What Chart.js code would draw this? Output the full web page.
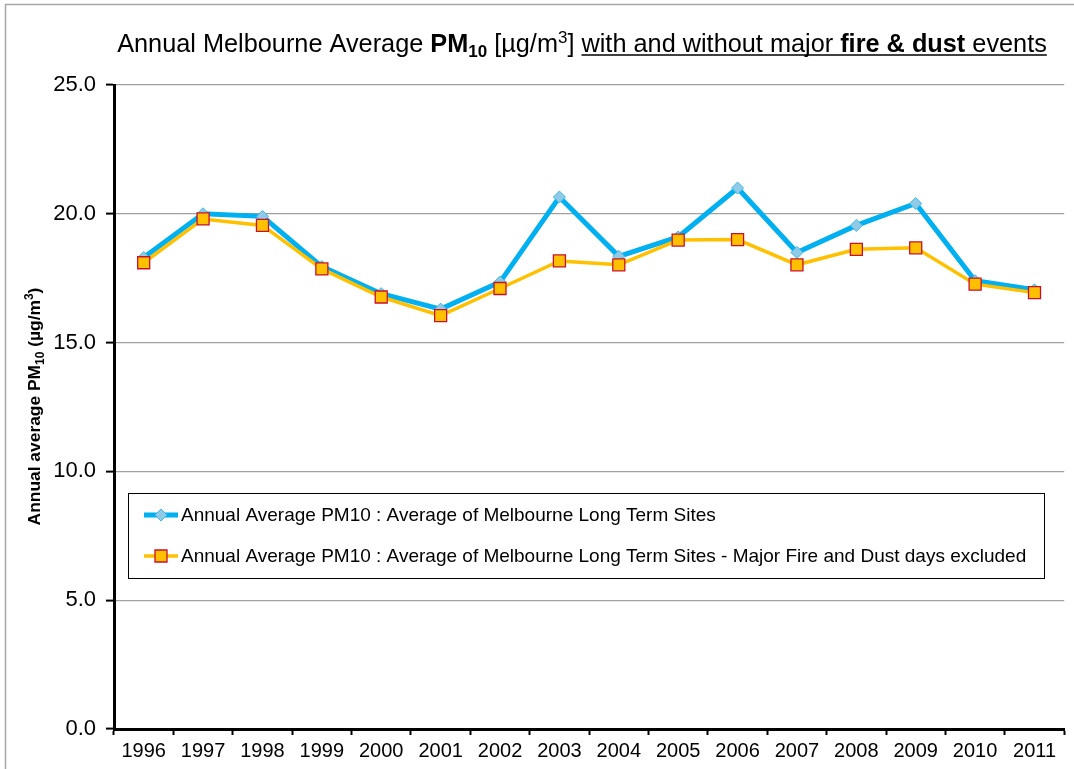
<!DOCTYPE html>
<html>
<head>
<meta charset="utf-8">
<script src="https://cdn.jsdelivr.net/npm/chart.js@4.4.0/dist/chart.umd.min.js"></script>
<style>
  html, body { margin: 0; padding: 0; background: #ffffff; }
  #wrap { width: 1074px; height: 769px; }
</style>
</head>
<body>
<div id="wrap"><canvas id="c" width="1074" height="769"></canvas></div>
<script>
// ---- Data ----
const years = ['1996','1997','1998','1999','2000','2001','2002','2003','2004','2005','2006','2007','2008','2009','2010','2011'];
const allDaysPM10 = [18.3, 20.0, 19.9, 17.95, 16.9, 16.3, 17.35, 20.65, 18.35, 19.1, 21.0, 18.5, 19.55, 20.4, 17.4, 17.05];
const excludedPM10 = [18.1, 19.8, 19.55, 17.86, 16.77, 16.05, 17.1, 18.17, 18.02, 18.98, 19.0, 18.02, 18.62, 18.68, 17.27, 16.94];
const seriesLabels = [
  'Annual Average PM10 : Average of Melbourne Long Term Sites',
  'Annual Average PM10 : Average of Melbourne Long Term Sites - Major Fire and Dust days excluded'
];
const yTicks = [0, 5, 10, 15, 20, 25];

const FONT = '"Liberation Sans", Arial, Helvetica, sans-serif';

function drawSegments(ctx, segs, x, y) {
  let cx = x;
  const out = [];
  segs.forEach(s => {
    ctx.font = (s.bold ? 'bold ' : '') + s.size + 'px ' + FONT;
    const w = ctx.measureText(s.t).width;
    ctx.fillText(s.t, cx, y + (s.dy || 0));
    out.push({x0: cx, x1: cx + w, ul: s.ul});
    cx += w;
  });
  return out;
}
function segWidth(ctx, segs) {
  let w = 0;
  segs.forEach(s => {
    ctx.font = (s.bold ? 'bold ' : '') + s.size + 'px ' + FONT;
    w += ctx.measureText(s.t).width;
  });
  return w;
}

const decorPlugin = {
  id: 'decor',
  beforeDraw(chart) {
    const ctx = chart.ctx;
    ctx.save();
    ctx.fillStyle = '#ffffff';
    ctx.fillRect(0, 0, chart.width, chart.height);
    ctx.strokeStyle = '#a6a6a6';
    ctx.lineWidth = 1.5;
    ctx.beginPath();
    ctx.moveTo(5.5, chart.height + 5);
    ctx.lineTo(5.5, 4.5);
    ctx.lineTo(chart.width + 5, 4.5);
    ctx.stroke();
    ctx.restore();
  },
  afterDraw(chart) {
    const ctx = chart.ctx;
    ctx.save();
    ctx.fillStyle = '#000000';
    ctx.textBaseline = 'alphabetic';
    ctx.textAlign = 'left';
    // ---- Title ----
    const T = 25.3, S = 17;
    const title = [
      {t: 'Annual Melbourne Average ', size: T},
      {t: 'PM', size: T, bold: true},
      {t: '10', size: S, bold: true, dy: 5},
      {t: ' [\u00b5g/m', size: T},
      {t: '3', size: S, dy: -9},
      {t: '] ', size: T},
      {t: 'with and without major ', size: T, ul: true},
      {t: 'fire & dust', size: T, bold: true, ul: true},
      {t: ' events', size: T, ul: true}
    ];
    const tw = segWidth(ctx, title);
    const tx = 582 - tw / 2, ty = 52;
    const parts = drawSegments(ctx, title, tx, ty);
    const ulParts = parts.filter(p => p.ul);
    ctx.strokeStyle = '#000000';
    ctx.lineWidth = 1.7;
    ctx.beginPath();
    ctx.moveTo(ulParts[0].x0, ty + 3);
    ctx.lineTo(ulParts[ulParts.length - 1].x1, ty + 3);
    ctx.stroke();

    // ---- Y axis title ----
    const Y = 17.4, YS = 12;
    const ytitle = [
      {t: 'Annual average PM', size: Y, bold: true},
      {t: '10', size: YS, bold: true, dy: 4},
      {t: ' (\u00b5g/m', size: Y, bold: true},
      {t: '3', size: YS, bold: true, dy: -7},
      {t: ')', size: Y, bold: true}
    ];
    const yw = segWidth(ctx, ytitle);
    ctx.save();
    ctx.translate(40, 406.5);
    ctx.rotate(-Math.PI / 2);
    drawSegments(ctx, ytitle, -yw / 2, 0);
    ctx.restore();

    // ---- Legend box ----
    const lx = 128.5, ly = 493.5, lw = 916, lh = 85;
    ctx.fillStyle = '#ffffff';
    ctx.fillRect(lx, ly, lw, lh);
    ctx.strokeStyle = '#000000';
    ctx.lineWidth = 1;
    ctx.strokeRect(lx, ly, lw, lh);
    const rowsY = [515, 556];
    chart.data.datasets.forEach((ds, i) => {
      const yy = rowsY[i];
      ctx.strokeStyle = ds.borderColor;
      ctx.lineWidth = ds.borderWidth;
      ctx.beginPath();
      ctx.moveTo(144, yy);
      ctx.lineTo(178, yy);
      ctx.stroke();
      ctx.fillStyle = ds.pointBackgroundColor;
      ctx.strokeStyle = ds.pointBorderColor;
      ctx.lineWidth = ds.pointBorderWidth;
      Chart.helpers.drawPoint(ctx, {
        pointStyle: ds.pointStyle, radius: ds.pointRadius, rotation: 0,
        borderWidth: ds.pointBorderWidth
      }, 161, yy);
      ctx.fillStyle = '#000000';
      ctx.font = '19px ' + FONT;
      ctx.textBaseline = 'middle';
      ctx.fillText(ds.label, 181, yy + 1);
    });
    ctx.restore();
  }
};

new Chart(document.getElementById('c'), {
  type: 'line',
  data: {
    labels: years,
    datasets: [
      {
        label: seriesLabels[0],
        data: allDaysPM10,
        borderColor: '#00b0f0',
        borderWidth: 5,
        pointStyle: 'rectRot',
        pointRadius: 6,
        pointHoverRadius: 6,
        pointBackgroundColor: '#8fcbe6',
        pointBorderColor: '#3fb6e6',
        pointBorderWidth: 1,
        tension: 0,
        order: 2
      },
      {
        label: seriesLabels[1],
        data: excludedPM10,
        borderColor: '#ffc000',
        borderWidth: 3.5,
        pointStyle: 'rect',
        pointRadius: 8.5,
        pointHoverRadius: 8.5,
        pointBackgroundColor: '#ffc000',
        pointBorderColor: '#c8102e',
        pointBorderWidth: 1.3,
        tension: 0,
        order: 1
      }
    ]
  },
  options: {
    responsive: false,
    animation: false,
    devicePixelRatio: 1,
    layout: { padding: { top: 85, right: 7, bottom: 0, left: 0 } },
    plugins: {
      legend: { display: false },
      title: { display: false },
      tooltip: { enabled: false }
    },
    events: [],
    scales: {
      x: {
        type: 'category',
        offset: true,
        grid: {
          offset: true,
          drawOnChartArea: false,
          drawTicks: true,
          tickLength: 6,
          tickColor: '#000000',
          tickWidth: 2
        },
        border: { display: true, color: '#000000', width: 3 },
        ticks: {
          color: '#000000',
          font: { family: FONT, size: 20 },
          padding: 4,
          maxRotation: 0,
          autoSkip: false
        },
        afterFit(scale) { scale.height = 40; }
      },
      y: {
        min: 0,
        max: 25,
        afterBuildTicks(scale) { scale.ticks = yTicks.map(v => ({ value: v })); },
        grid: {
          color: '#a0a0a0',
          lineWidth: 1.2,
          drawTicks: true,
          tickLength: 8,
          tickColor: '#000000',
          tickWidth: 2
        },
        border: { display: true, color: '#000000', width: 3 },
        ticks: {
          color: '#000000',
          font: { family: FONT, size: 22 },
          padding: 10,
          callback: v => Number(v).toFixed(1)
        },
        afterFit(scale) { scale.width = 114; }
      }
    }
  },
  plugins: [decorPlugin]
});
</script>
</body>
</html>
